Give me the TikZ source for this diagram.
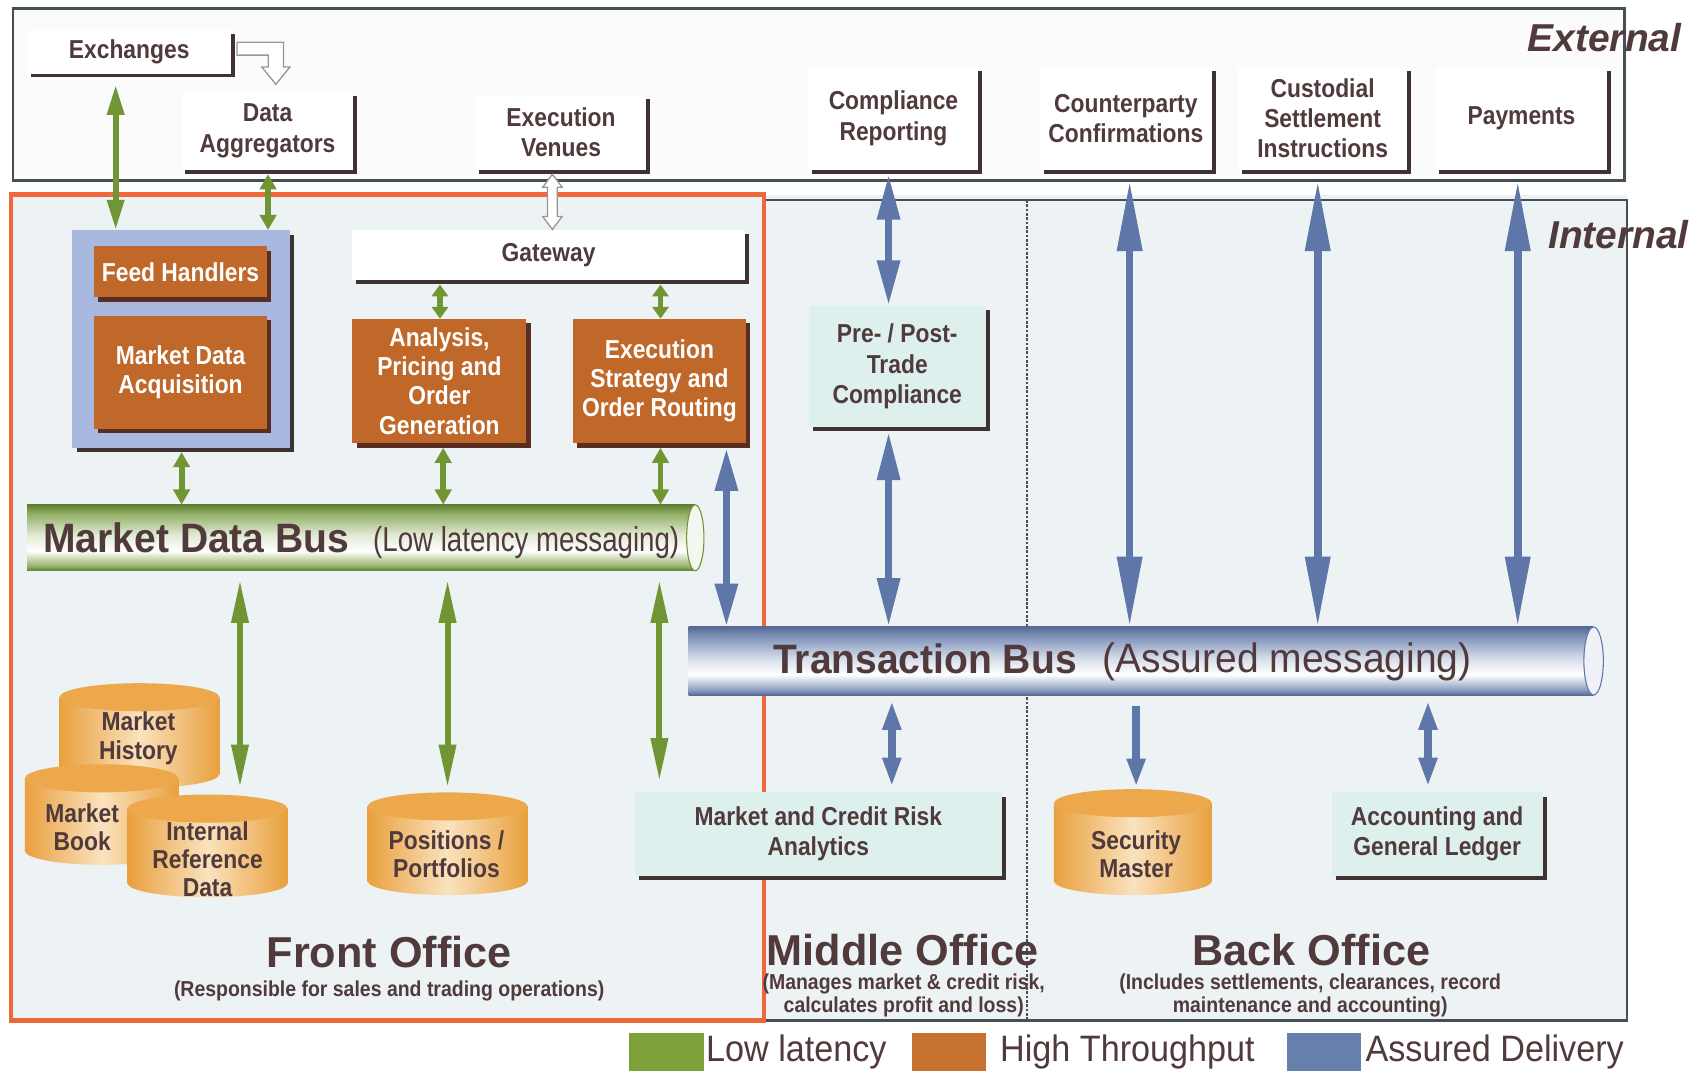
\documentclass[tikz,border=0pt]{standalone}
\usepackage{fontspec}
\setmainfont{Liberation Sans}
\newfontfamily\lblf{Liberation Sans}[FakeStretch=0.88]
\newfontfamily\busf{Liberation Sans}[FakeStretch=0.95]
\newfontfamily\lowf{Liberation Sans}[FakeStretch=0.8]
\newfontfamily\mysubf{Liberation Sans}[FakeStretch=0.9]
\newfontfamily\legf{Liberation Sans}[FakeStretch=0.93]
\usetikzlibrary{arrows.meta,shadows,calc}
\definecolor{txt}{RGB}{80,58,60}
\definecolor{gcol}{RGB}{112,150,52}
\definecolor{gdk}{RGB}{96,128,50}
\definecolor{bcol}{RGB}{94,119,168}
\definecolor{bdk}{RGB}{88,106,150}
\definecolor{ocol}{RGB}{192,104,42}
\definecolor{shd}{RGB}{62,50,50}
\definecolor{oshd}{RGB}{90,45,35}
\definecolor{bgin}{RGB}{237,242,245}
\definecolor{extfill}{RGB}{252,251,251}
\definecolor{extln}{RGB}{68,80,86}
\definecolor{fored}{RGB}{238,104,60}
\definecolor{bluebox}{RGB}{168,184,222}
\definecolor{cyanbox}{RGB}{222,240,238}
\definecolor{dbor}{RGB}{233,160,62}
\definecolor{dblt}{RGB}{250,226,190}
\definecolor{dbtop}{RGB}{236,168,74}
\definecolor{legg}{RGB}{126,160,58}
\definecolor{lego}{RGB}{200,114,50}
\definecolor{legb}{RGB}{102,128,171}
\definecolor{hollowln}{RGB}{150,150,150}
\pgfdeclareverticalshading{mdbshade}{100bp}{color(0bp)=(gdk); color(25bp)=(gdk); color(29bp)=(gcol!70); color(40bp)=(white); color(52bp)=(gcol!20); color(68bp)=(gcol!75); color(75bp)=(gdk); color(100bp)=(gdk)}
\pgfdeclareverticalshading{tbshade}{100bp}{color(0bp)=(bdk); color(25bp)=(bdk); color(29bp)=(bcol!70); color(40bp)=(white); color(52bp)=(bcol!25); color(68bp)=(bcol!80); color(75bp)=(bdk); color(100bp)=(bdk)}
\newcommand\dbdraw[5]{%
  \path[left color=dbor, right color=dbor, middle color=dblt]
     (#1,#3) ellipse[x radius=#4, y radius=#5];
  \path[left color=dbor, right color=dbor, middle color=dblt]
     (#1-#4,#2) rectangle (#1+#4,#3);
  \path[fill=dbtop] (#1,#2) ellipse[x radius=#4, y radius=#5];
}
\tikzset{
 lbl/.style={font={\lblf\bfseries\fontsize{24}{28}\selectfont}, align=center, text=txt, inner sep=0pt},
 wbox/.style={lbl, fill=white, drop shadow={shadow xshift=3.5pt, shadow yshift=-3.5pt, fill=shd, opacity=1}},
 obox/.style={lbl, fill=ocol, text=white, font={\lblf\bfseries\fontsize{24}{27}\selectfont}, drop shadow={shadow xshift=4pt, shadow yshift=-4pt, fill=oshd, opacity=1}},
 cbox/.style={lbl, fill=cyanbox, drop shadow={shadow xshift=4pt, shadow yshift=-4pt, fill=shd, opacity=1}},
 bbox/.style={fill=bluebox, inner sep=0pt, drop shadow={shadow xshift=4pt, shadow yshift=-4pt, fill=shd, opacity=1}},
 dbl/.style={lbl, font={\lblf\bfseries\fontsize{24}{26}\selectfont}},
 dbn/.style={inner sep=0pt},
 ga/.style={draw=gcol, line width=5.5pt},
 ba/.style={draw=bcol, line width=7pt},
 gtip/.style={arrows={Triangle[length=#1,width=15pt]-Triangle[length=#1,width=15pt]}},
 btip/.style 2 args={arrows={Triangle[length=#1,width=#2]-Triangle[length=#1,width=#2]}},
 hollow/.style={draw=hollowln, line width=1.2pt, fill=white},
 titl/.style={font={\bfseries\fontsize{40}{44}\selectfont}, text=txt, anchor=base, inner sep=0pt},
 subt/.style={font={\mysubf\bfseries\fontsize{20}{21}\selectfont}, text=txt, align=center, inner sep=0pt},
 legt/.style={font={\legf\fontsize{34}{36}\selectfont}, text=txt, anchor=base west, inner sep=0pt},
 legs/.style={minimum width=69pt, minimum height=36pt, anchor=north west, inner sep=0pt},
 bust/.style={font={\busf\bfseries\fontsize{38}{40}\selectfont}, text=txt, anchor=base west, inner sep=0pt},
 ioname/.style={font={\bfseries\itshape\fontsize{36}{40}\selectfont}, text=txt, anchor=base west, inner sep=0pt}
}
\begin{document}
\begin{tikzpicture}[x=1pt,y=-1pt]
\useasboundingbox (0,0) rectangle (1568,991);
\fill[white] (0,0) rectangle (1568,991);
% regions
\draw[extln, line width=2.5pt, fill=extfill] (12,8) rectangle (1503,167);
\fill[bgin] (10,180) rectangle (1505,944);
\draw[extln, line width=2.5pt] (707,185) -- (1505,185) -- (1505,944) -- (707,944);
\draw[fored, line width=4pt] (10,180) rectangle (707,944);
\draw[extln, line width=1.3pt, dash pattern=on 2.5pt off 1.5pt] (950,185) -- (950,944);
% buses
\node[shade, shading=mdbshade, minimum width=618pt, minimum height=61pt, inner sep=0pt] (mdb) at (334,497.5) {};
\draw[gcol, line width=1pt, fill=gcol!8] (mdb.east) ellipse[x radius=8, y radius=30.5];
\node[shade, shading=tbshade, minimum width=837pt, minimum height=63pt, inner sep=0pt] (tb) at (1055.5,611.5) {};
\draw[bcol, line width=1pt, fill=bcol!10] (tb.east) ellipse[x radius=9, y radius=31.5];
% external boxes
\node[wbox, minimum width=189pt, minimum height=40pt] (exch) at (119.5,48) {Exchanges};
\node[wbox, minimum width=159pt, minimum height=72pt] (dagg) at (247.5,121) {Data\\Aggregators};
\node[wbox, minimum width=158pt, minimum height=69pt] (ev) at (519,122.5) {Execution\\Venues};
\node[wbox, minimum width=157pt, minimum height=95pt] (cr) at (826.5,109.5) {Compliance\\Reporting};
\node[wbox, minimum width=159pt, minimum height=95pt] (cc) at (1041.5,109.5) {Counterparty\\Confirmations};
\node[wbox, minimum width=157pt, minimum height=95pt] (csi) at (1223.5,109.5) {Custodial\\Settlement\\Instructions};
\node[wbox, minimum width=159pt, minimum height=95pt] (pay) at (1407.5,109.5) {Payments};
% front office boxes
\node[bbox, minimum width=201pt, minimum height=201pt] (bb) at (167.5,313.5) {};
\node[obox, minimum width=160pt, minimum height=47pt] (fh) at (167,251.5) {Feed Handlers};
\node[obox, minimum width=160pt, minimum height=105pt] (mda) at (167,344.5) {Market Data\\Acquisition};
\node[wbox, minimum width=363pt, minimum height=46pt] (gw) at (507.5,236) {Gateway};
\node[obox, minimum width=161pt, minimum height=115pt] (apo) at (406.5,352.5) {Analysis,\\Pricing and\\Order\\Generation};
\node[obox, minimum width=160pt, minimum height=115pt] (esr) at (610,352.5) {Execution\\Strategy and\\Order Routing};
% middle / back boxes
\node[cbox, minimum width=164pt, minimum height=112pt] (ppt) at (830,339) {Pre- / Post-\\Trade\\Compliance};
\node[cbox, minimum width=340pt, minimum height=77pt] (mcra) at (757,771.5) {Market and Credit Risk\\Analytics};
\node[cbox, minimum width=195pt, minimum height=77pt] (agl) at (1329.5,771.5) {Accounting and\\General Ledger};
% databases
\dbdraw{129}{645}{716}{74}{13}
\node[dbn, minimum width=148pt, minimum height=97pt] (mh) at (129,680.5) {};
\node[dbl] (mht) at (128,683) {Market\\History};
\dbdraw{94}{720}{787}{71}{13}
\node[dbn, minimum width=142pt, minimum height=93pt] (mb) at (94,753.5) {};
\node[dbl] (mbt) at (76,765) {Market\\Book};
\dbdraw{192}{748}{817}{74}{13}
\node[dbn, minimum width=148pt, minimum height=95pt] (ird) at (192,782.5) {};
\node[dbl] (irdt) at (192,795) {Internal\\Reference\\Data};
\dbdraw{414}{746}{815}{74}{13}
\node[dbn, minimum width=148pt, minimum height=95pt] (pos) at (414,780.5) {};
\node[dbl] (post) at (413,790) {Positions /\\Portfolios};
\dbdraw{1048}{743}{815}{73}{13}
\node[dbn, minimum width=146pt, minimum height=98pt] (secm) at (1048,779) {};
\node[dbl] (secmt) at (1051,790) {Security\\Master};
% arrow columns
\coordinate (cA) at (107,0);
\coordinate (cB) at (248,0);
\coordinate (cC) at (407,0);
\coordinate (cD) at (611,0);
\coordinate (cE) at (168,0);
\coordinate (cF) at (410,0);
\coordinate (cG) at (222,0);
\coordinate (cH) at (414,0);
\coordinate (cI) at (610,0);
\coordinate (cJ) at (672,0);
\coordinate (cK) at (822,0);
\coordinate (cL) at (1045,0);
\coordinate (cM) at (1219,0);
\coordinate (cN) at (1404,0);
\coordinate (cO) at (825,0);
\coordinate (cP) at (1051,0);
\coordinate (cQ) at (1321,0);
\coordinate (hx) at (511,0);
% green arrows
\draw[ga, gtip=28pt] ($(exch.south -| cA)+(0,10)$) -- (bb.north -| cA);
\draw[ga, gtip=14pt] ($(dagg.south -| cB)+(0,4)$) -- (bb.north -| cB);
\draw[ga, gtip=11pt] ($(gw.south -| cC)+(0,4)$) -- (apo.north -| cC);
\draw[ga, gtip=11pt] ($(gw.south -| cD)+(0,4)$) -- (esr.north -| cD);
\draw[ga, gtip=14pt] ($(bb.south -| cE)+(0,4)$) -- (mdb.north -| cE);
\draw[ga, gtip=14pt] ($(apo.south -| cF)+(0,4)$) -- (mdb.north -| cF);
\draw[ga, gtip=14pt] ($(esr.south -| cD)+(0,4)$) -- (mdb.north -| cD);
\draw[ga, gtip=40pt] ($(mdb.south -| cG)+(0,8)$) -- ($(ird.north -| cG)+(0,-6)$);
\draw[ga, gtip=40pt] ($(mdb.south -| cH)+(0,8)$) -- ($(pos.north -| cH)+(0,-4)$);
\draw[ga, gtip=40pt] ($(mdb.south -| cI)+(0,8)$) -- ($(mcra.north -| cI)+(0,-10)$);
% blue arrows
\draw[ba, btip={40pt}{20pt}] ($(esr.south -| cJ)+(0,4)$) -- (tb.north -| cJ);
\draw[ba, btip={42pt}{20pt}] ($(cr.south -| cK)+(0,4)$) -- (ppt.north -| cK);
\draw[ba, btip={45pt}{20pt}] ($(ppt.south -| cK)+(0,4)$) -- (tb.north -| cK);
\draw[ba, btip={65pt}{22pt}] ($(cc.south -| cL)+(0,10)$) -- (tb.north -| cL);
\draw[ba, btip={65pt}{22pt}] ($(csi.south -| cM)+(0,10)$) -- (tb.north -| cM);
\draw[ba, btip={65pt}{22pt}] ($(pay.south -| cN)+(0,10)$) -- (tb.north -| cN);
\draw[ba, btip={27pt}{16pt}] ($(tb.south -| cO)+(0,5)$) -- ($(mcra.north -| cO)+(0,-5)$);
\draw[ba, arrows={-Triangle[length=26pt,width=16pt]}] ($(tb.south -| cP)+(0,10)$) -- ($(secm.north -| cP)+(0,-2)$);
\draw[ba, btip={27pt}{16pt}] ($(tb.south -| cQ)+(0,5)$) -- ($(agl.north -| cQ)+(0,-5)$);
% hollow arrows
\draw[hollow] ($(exch.east)+(5,-9)$) -- ++(43,0) -- ++(0,23) -- ++(6,0) -- ++(-13,16) -- ++(-13,-16) -- ++(6,0) -- ++(0,-11) -- ++(-29,0) -- cycle;
\draw[hollow] ($(ev.south -| hx)+(0,4)$) -- ++(9,12) -- ++(-4.5,0) -- ++(0,27) -- ++(4.5,0) -- ++(-9,12) -- ++(-9,-12) -- ++(4.5,0) -- ++(0,-27) -- ++(-4.5,0) -- cycle;
% labels
\node[ioname] (extl) at (1413,48) {External};
\node[ioname] (intl) at (1432,230) {Internal};
\node[bust] (mdbt) at (40,511) {Market Data Bus};
\node[font={\lowf\fontsize{32}{34}\selectfont}, text=txt, anchor=base west, inner sep=0pt] (mdbs) at (345,510) {(Low latency messaging)};
\node[bust] (tbt) at (715,623) {Transaction Bus};
\node[bust, font={\busf\fontsize{38}{40}\selectfont}] (tbs) at (1020,622) {(Assured messaging)};
\node[titl] (fot) at (360,895) {Front Office};
\node[subt, anchor=base] (fos) at (360,922) {(Responsible for sales and trading operations)};
\node[titl] (mot) at (835,893) {Middle Office};
\node[subt] (mos) at (836,921) {(Manages market \& credit risk,\\calculates profit and loss)};
\node[titl] (bot) at (1213,893) {Back Office};
\node[subt] (bos) at (1212,921) {(Includes settlements, clearances, record\\maintenance and accounting)};
% legend
\node[legs, fill=legg] (lg1) at (582,955) {};
\node[legt] (lt1) at (653,982) {Low latency};
\node[legs, fill=lego] (lg2) at (843,955) {};
\node[legt] (lt2) at (925,982) {High Throughput};
\node[legs, fill=legb] (lg3) at (1190,955) {};
\node[legt] (lt3) at (1263,982) {Assured Delivery};
\end{tikzpicture}
\end{document}
